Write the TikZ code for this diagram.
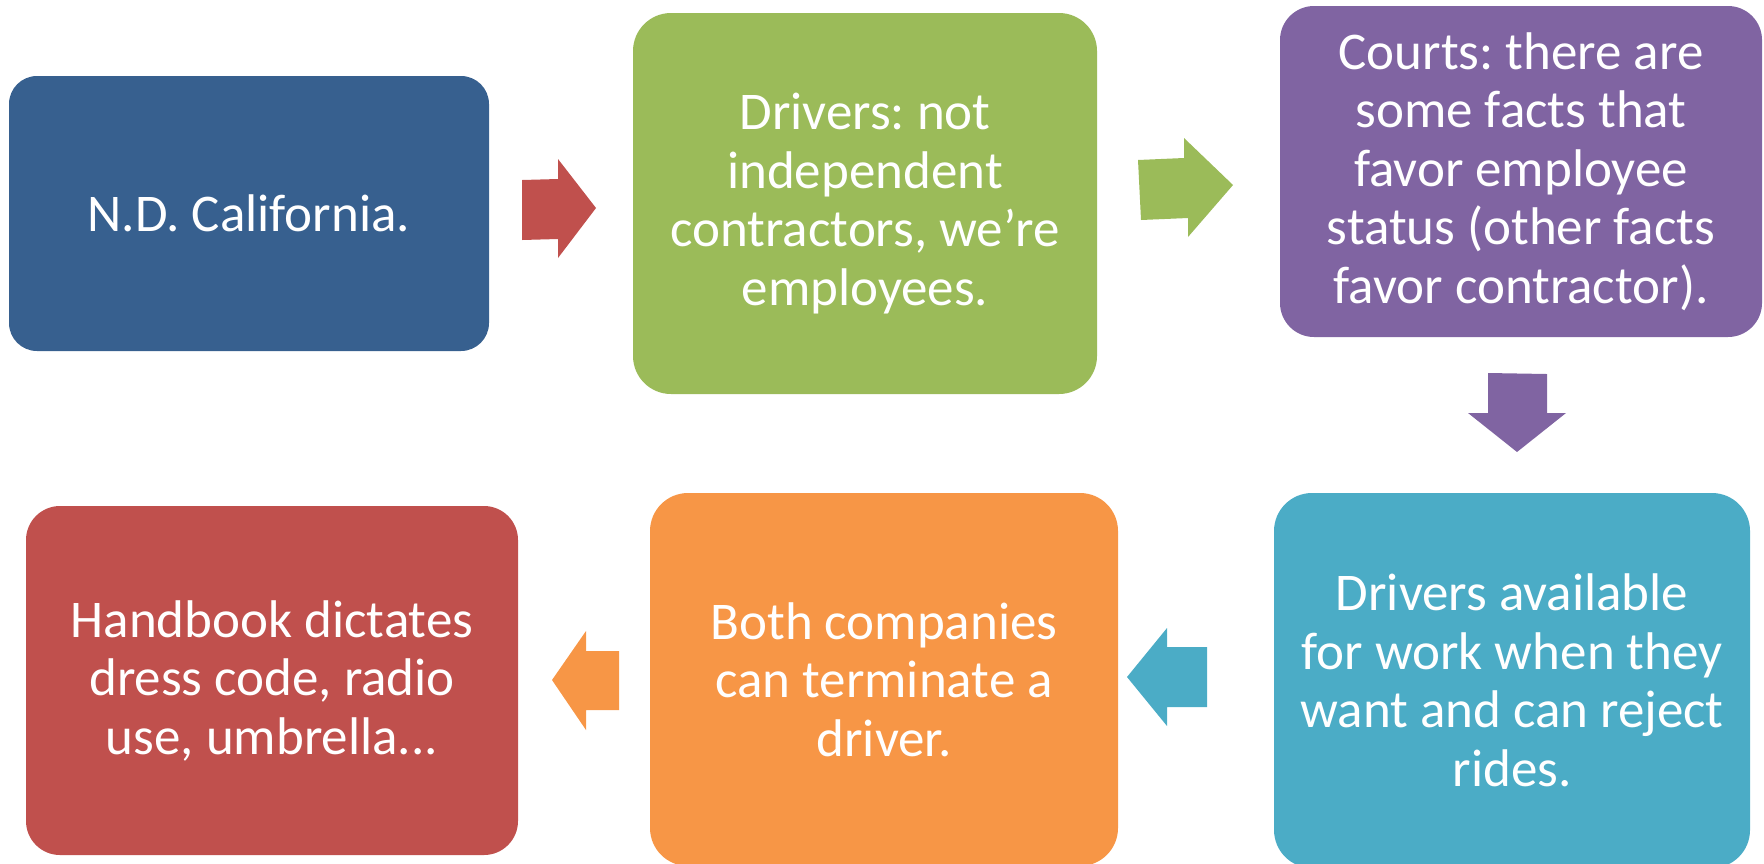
\documentclass[tikz,border=0pt]{standalone}
\usepackage{fontspec}
\setmainfont{Carlito}
\frenchspacing
\begin{document}
\begin{tikzpicture}[x=0.5pt,y=-0.5pt,
  card/.style={rounded corners=17pt, text=white, align=center, inner sep=0pt,
    font=\fontsize{26.5}{29.25}\selectfont}]
\definecolor{cBlue}{HTML}{37608F}
\definecolor{cGreen}{HTML}{9BBB59}
\definecolor{cPurple}{HTML}{8064A2}
\definecolor{cTeal}{HTML}{4BACC6}
\definecolor{cOrange}{HTML}{F79646}
\definecolor{cRed}{HTML}{C0504D}
\useasboundingbox (0,0) rectangle (1764,863);
\clip (0,0) rectangle (1764,863);

% step cards
\node[card, fill=cBlue, minimum width=240pt, minimum height=137.5pt, rounded corners=14pt]
  (nd) at (249,213.5) {N.D. California.};
\node[card, fill=cGreen, minimum width=232pt, minimum height=190.5pt, rounded corners=19pt]
  (drv) at (865,203.5) {Drivers: not\\independent\\contractors, we’re\\employees.};
\node[card, fill=cPurple, minimum width=241pt, minimum height=165.5pt]
  (crt) at (1521,171.5) {Courts: there are\\some facts that\\favor employee\\status (other facts\\favor contractor).};
\node[card, fill=cTeal, minimum width=238pt, minimum height=187.5pt, rounded corners=19pt]
  (avl) at (1512,680.5) {Drivers available\\for work when they\\want and can reject\\rides.};
\node[card, fill=cOrange, minimum width=234pt, minimum height=186.5pt, rounded corners=19pt]
  (trm) at (884,679.5) {Both companies\\can terminate a\\driver.};
\node[card, fill=cRed, minimum width=246pt, minimum height=174.5pt]
  (hbk) at (272,680.5) {Handbook dictates\\dress code, radio\\use, umbrella...};

% block arrows between the cards
\fill[cRed] (522,180) -- (558,179) -- (558,159) -- (596,208) -- (558,258)
  -- (558,239) -- (522,240) -- cycle;
\fill[cGreen] (1138,160) -- (1184,158) -- (1184,138) -- (1233,185) -- (1188,237)
  -- (1188,218) -- (1141,220) -- cycle;
\fill[cPurple] (1488,373) -- (1547,374) -- (1547,413) -- (1566,413) -- (1517,452)
  -- (1468,413) -- (1488,413) -- cycle;
\fill[cTeal] (1207,647) -- (1167,647) -- (1167,628) -- (1127,677) -- (1167,726)
  -- (1167,707) -- (1207,707) -- cycle;
\fill[cOrange] (619,651) -- (586,651) -- (586,631) -- (552,680) -- (586,730)
  -- (586,710) -- (619,710) -- cycle;
\end{tikzpicture}
\end{document}
